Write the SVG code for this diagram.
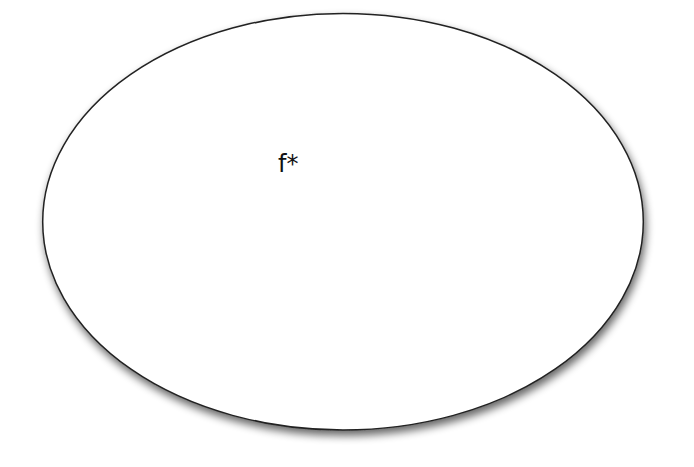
<svg xmlns="http://www.w3.org/2000/svg" width="694" height="467" viewBox="0 0 694 467">
<defs>
<filter id="sh" x="-10%" y="-10%" width="120%" height="125%">
<feGaussianBlur in="SourceAlpha" stdDeviation="4"/>
<feOffset dx="2" dy="5" result="b"/>
<feComponentTransfer><feFuncA type="linear" slope="0.6"/></feComponentTransfer>
<feMerge><feMergeNode/><feMergeNode in="SourceGraphic"/></feMerge>
</filter>
<style>.n{fill:#fff;stroke:#222;stroke-width:1.5}.t{font-family:"DejaVu Sans",sans-serif;font-size:24px;fill:#111}</style>
</defs>
<rect width="694" height="467" fill="#fff"/>
<g id="node1">
<ellipse class="n" cx="343" cy="221.7" rx="300.3" ry="208.3" filter="url(#sh)"/>
<text class="t" x="278" y="172">f*</text>
</g>
<g id="connectors"/>
</svg>
